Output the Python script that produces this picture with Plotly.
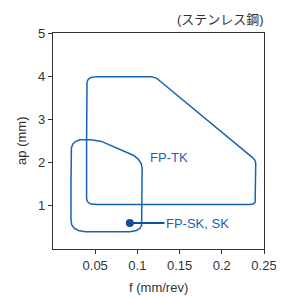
import plotly.graph_objects as go

# FP-TK region outline (f in mm/rev, ap in mm), closed
tk_f  = [0.0398, 0.0398, 0.0403, 0.0418, 0.0450, 0.0520, 0.1166, 0.1230, 0.1285,
         0.2368, 0.2392, 0.2402, 0.2402, 0.2395, 0.2370, 0.2328, 0.0520, 0.0450,
         0.0415, 0.0400, 0.0398, 0.0398]
tk_ap = [2.50,   3.77,   3.87,   3.93,   3.97,   3.99,   3.99,   3.95,   3.86,
         2.11,   2.06,   1.98,   1.14,   1.08,   1.04,   1.03,   1.03,   1.04,
         1.08,   1.14,   1.20,   2.50]

# FP-SK, SK region outline, closed
sk_f  = [0.0213, 0.0213, 0.0218, 0.0235, 0.0270, 0.0320, 0.0450, 0.0575, 0.0870,
         0.0950, 0.1010, 0.1045, 0.1056, 0.1056, 0.1050, 0.1030, 0.0990, 0.0910,
         0.0380, 0.0300, 0.0250, 0.0222, 0.0213, 0.0213]
sk_ap = [1.50,   2.23,   2.34,   2.43,   2.49,   2.53,   2.53,   2.49,   2.24,
         2.17,   2.08,   1.98,   1.86,   0.63,   0.55,   0.48,   0.43,   0.40,
         0.40,   0.43,   0.48,   0.56,   0.67,   1.50]

# Leader for FP-SK label
lead_f  = [0.091, 0.132]
lead_ap = [0.60, 0.60]

x_ticks = [0.05, 0.10, 0.15, 0.20, 0.25]
x_tick_labels = ["0.05", "0.1", "0.15", "0.2", "0.25"]
y_ticks = [1, 2, 3, 4, 5]

BLUE = "#1762b6"
DOT = "#0e4f9f"
GREY = "#333333"
FONT = "Liberation Sans, Noto Sans CJK JP, sans-serif"

fig = go.Figure()
fig.add_trace(go.Scatter(x=tk_f, y=tk_ap, mode="lines",
                         line=dict(color=BLUE, width=1.5), hoverinfo="skip"))
fig.add_trace(go.Scatter(x=sk_f, y=sk_ap, mode="lines",
                         line=dict(color=BLUE, width=1.5), hoverinfo="skip"))
fig.add_trace(go.Scatter(x=lead_f, y=lead_ap, mode="lines",
                         line=dict(color=DOT, width=2), hoverinfo="skip"))
fig.add_trace(go.Scatter(x=[lead_f[0]], y=[lead_ap[0]], mode="markers",
                         marker=dict(color=DOT, size=8), hoverinfo="skip"))

fig.add_annotation(x=0.138, y=2.12, text="FP-TK", showarrow=False,
                   font=dict(family=FONT, size=13, color=BLUE))
fig.add_annotation(x=lead_f[1], y=lead_ap[1], text="FP-SK, SK", showarrow=False,
                   xanchor="left", xshift=0,
                   font=dict(family=FONT, size=13, color=BLUE))
fig.add_annotation(x=1, y=1, xref="paper", yref="paper", text="(ステンレス鋼)",
                   showarrow=False, xanchor="right", yanchor="bottom", yshift=4, xshift=2,
                   font=dict(family=FONT, size=13, color=GREY))
# axis titles
fig.add_annotation(x=-0.152, y=0.5, xref="paper", yref="paper", text="ap (mm)",
                   showarrow=False, textangle=-90, xanchor="center", yanchor="middle",
                   font=dict(family=FONT, size=13, color=GREY))
fig.add_annotation(x=0.5, y=-0.176, xref="paper", yref="paper", text="f (mm/rev)",
                   showarrow=False, xanchor="center", yanchor="middle",
                   font=dict(family=FONT, size=13, color=GREY))

# page body has an 8px default margin, so the figure is sized to fit within the window
fig.update_layout(
    width=276, height=289,
    margin=dict(l=45, r=20, t=25, b=48),
    plot_bgcolor="white", paper_bgcolor="white",
    showlegend=False,
    font=dict(family=FONT, size=13, color=GREY),
    xaxis=dict(range=[0, 0.25], tickvals=x_ticks, ticktext=x_tick_labels,
               showgrid=False, zeroline=False, showline=True, linecolor=GREY,
               linewidth=1.2, mirror=True, ticks="outside", ticklen=4, tickcolor=GREY,
               automargin=False),
    yaxis=dict(range=[0, 5], tickvals=y_ticks,
               showgrid=False, zeroline=False, showline=True, linecolor=GREY,
               linewidth=1.2, mirror=True, ticks="outside", ticklen=4, tickcolor=GREY,
               automargin=False),
)

fig.write_html("out.html")
